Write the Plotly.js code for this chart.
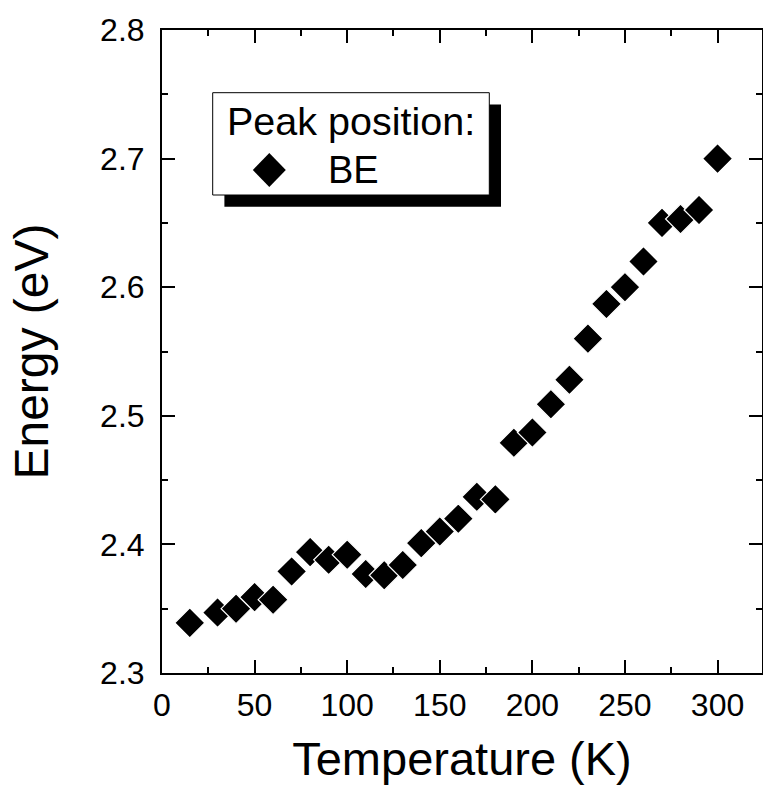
<!DOCTYPE html>
<html>
<head>
<meta charset="utf-8">
<script src="https://cdn.plot.ly/plotly-3.0.1.min.js"></script>
<style>html,body{margin:0;padding:0;background:#fff;}#chart{width:763px;height:792px;}</style>
</head>
<body>
<div id="chart"></div>
<script>
const temperatures = [15, 30, 40, 50, 60, 70, 80, 90, 100, 110, 120, 130, 140, 150, 160, 170, 180, 190, 200, 210, 220, 230, 240, 250, 260, 270, 280, 290, 300];
const energies = [2.339, 2.347, 2.350, 2.359, 2.357, 2.379, 2.394, 2.388, 2.392, 2.377, 2.376, 2.384, 2.401, 2.410, 2.420, 2.437, 2.435, 2.479, 2.487, 2.509, 2.528, 2.560, 2.587, 2.600, 2.620, 2.650, 2.653, 2.660, 2.700];
const seriesName = "BE";
const legendTitle = "Peak position:";
const xTitle = "Temperature (K)";
const yTitle = "Energy (eV)";
const xTickVals = [0, 50, 100, 150, 200, 250, 300];
const yTickVals = [2.3, 2.4, 2.5, 2.6, 2.7, 2.8];

const FONT = "Arial, 'Liberation Sans', sans-serif";
const W = 763, H = 792;
const M = {l: 162, r: 1, t: 30, b: 119};
const PW = W - M.l - M.r, PH = H - M.t - M.b;
const px = v => (v - M.l) / PW;      // pixel x -> paper
const py = v => (M.t + PH - v) / PH; // pixel y -> paper

const trace = {
  x: temperatures, y: energies, name: seriesName,
  type: "scatter", mode: "markers",
  marker: {symbol: "diamond", size: 23, color: "#000", line: {color: "#fff", width: 1.2}},
  showlegend: false
};

const axisCommon = {
  showline: true, linecolor: "#000", linewidth: 2, mirror: "allticks",
  ticks: "inside", ticklen: 13, tickwidth: 2, tickcolor: "#000",
  showgrid: false, zeroline: false,
  tickfont: {family: FONT, size: 32, color: "#000"}
};

// legend box geometry (pixels)
const box = {x0: 212.7, x1: 489.3, y0: 92.7, y1: 195};
const shadowOff = 11.7;
const sym = {cx: 269.3, cy: 170, hw: 16.5, hh: 17};

const layout = {
  width: W, height: H,
  margin: M,
  paper_bgcolor: "#fff", plot_bgcolor: "#fff",
  font: {family: FONT, color: "#000"},
  showlegend: false,
  xaxis: Object.assign({}, axisCommon, {
    range: [0, 324], tickvals: xTickVals, ticktext: xTickVals.map(String),
    ticklabelstandoff: 3,
    minor: {dtick: 25, tick0: 0, ticks: "inside", ticklen: 6, tickwidth: 2, tickcolor: "#000", showgrid: false},
    title: {text: xTitle, font: {family: FONT, size: 47, color: "#000"}, standoff: 20}
  }),
  yaxis: Object.assign({}, axisCommon, {
    range: [2.3, 2.8], tickvals: yTickVals, ticktext: yTickVals.map(v => v.toFixed(1)),
    ticklabelstandoff: 9,
    minor: {dtick: 0.05, tick0: 2.3, ticks: "inside", ticklen: 6, tickwidth: 2, tickcolor: "#000", showgrid: false},
    title: {text: yTitle, font: {family: FONT, size: 48, color: "#000"}, standoff: 36}
  }),
  shapes: [
    {type: "rect", xref: "paper", yref: "paper", layer: "above",
     x0: px(box.x0 + shadowOff), x1: px(box.x1 + shadowOff), y0: py(box.y1 + shadowOff), y1: py(box.y0 + shadowOff),
     fillcolor: "#000", line: {width: 0}},
    {type: "rect", xref: "paper", yref: "paper", layer: "above",
     x0: px(box.x0), x1: px(box.x1), y0: py(box.y1), y1: py(box.y0),
     fillcolor: "#fff", line: {color: "#000", width: 1}},
    {type: "path", xref: "paper", yref: "paper", layer: "above",
     path: `M ${px(sym.cx - sym.hw)},${py(sym.cy)} L ${px(sym.cx)},${py(sym.cy - sym.hh)} L ${px(sym.cx + sym.hw)},${py(sym.cy)} L ${px(sym.cx)},${py(sym.cy + sym.hh)} Z`,
     fillcolor: "#000", line: {width: 0}}
  ],
  annotations: [
    {text: legendTitle, xref: "paper", yref: "paper", x: px(225), y: py(121),
     xanchor: "left", yanchor: "middle", showarrow: false,
     font: {family: FONT, size: 39.5, color: "#000"}},
    {text: seriesName, xref: "paper", yref: "paper", x: px(325.5), y: py(170),
     xanchor: "left", yanchor: "middle", showarrow: false,
     font: {family: FONT, size: 38, color: "#000"}}
  ]
};

Plotly.newPlot("chart", [trace], layout, {displayModeBar: false, staticPlot: true});
</script>
</body>
</html>
